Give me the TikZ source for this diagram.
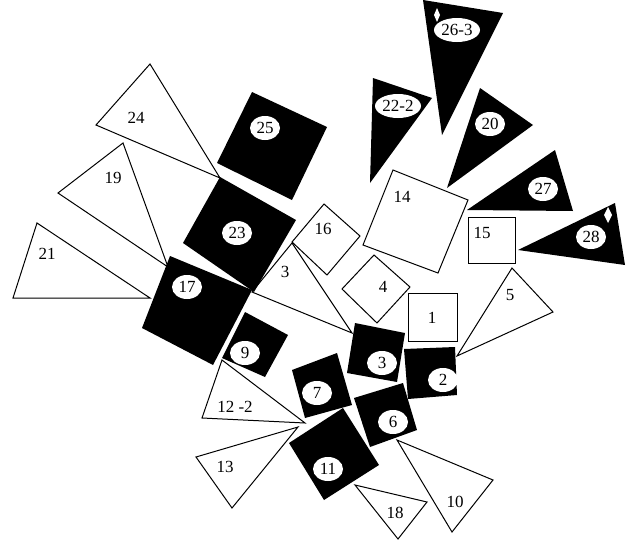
\documentclass[tikz,border=0pt]{standalone}
\usepackage{fontspec}
\setmainfont{Liberation Serif}
\usetikzlibrary{shapes.geometric}
\begin{document}
\begin{tikzpicture}[x=1pt,y=-1pt,
 wpoly/.style={draw=black,line width=1pt,fill=white,line join=miter},
 bpoly/.style={fill=black},
 wlab/.style={font=\fontsize{17}{17}\selectfont,inner sep=0pt},
 blab/.style={ellipse,fill=white,font=\fontsize{17}{17}\selectfont,inner sep=0pt,minimum width=30pt,minimum height=24pt},
 wmark/.style={fill=white}
]
\useasboundingbox (0,0) rectangle (632,541);
% white triangles
\draw[wpoly] (150,64) -- (96,125) -- (220,178) -- cycle;
\draw[wpoly] (123,143) -- (58,193) -- (168,267) -- cycle;
\draw[wpoly] (37,223) -- (13,298) -- (150,298) -- cycle;
\draw[wpoly] (292,243) -- (252,292) -- (352,333) -- cycle;
\draw[wpoly] (222,360) -- (202,418) -- (305,423) -- cycle;
\draw[wpoly] (298,427) -- (196,457) -- (232,508) -- cycle;
\draw[wpoly] (355,485) -- (427,502) -- (398,539) -- cycle;
\draw[wpoly] (397,440) -- (493,480) -- (452,532) -- cycle;
\draw[wpoly] (512,268) -- (553,312) -- (457,356) -- cycle;
% white squares
\draw[wpoly] (324,204) -- (360,236) -- (327,275) -- (292,242) -- cycle;
\draw[wpoly] (374,255) -- (410,287) -- (377,323) -- (342,289) -- cycle;
\draw[wpoly] (408,293) rectangle (457,341);
\draw[wpoly] (468,217) rectangle (515,263);
\draw[wpoly] (393,170) -- (468,200) -- (438,273) -- (363,245) -- cycle;
% black squares
\fill[bpoly] (252,92) -- (327,127) -- (292,200) -- (217,163) -- cycle;
\fill[bpoly] (220,177) -- (296,220) -- (254,292) -- (183,243) -- cycle;
\fill[bpoly] (170,256) -- (252,290) -- (213,365) -- (142,328) -- cycle;
\fill[bpoly] (245,312) -- (288,335) -- (265,377) -- (222,358) -- cycle;
\fill[bpoly] (292,370) -- (337,353) -- (352,405) -- (305,418) -- cycle;
\fill[bpoly] (355,323) -- (405,333) -- (397,382) -- (347,373) -- cycle;
\fill[bpoly] (404,349) -- (455,347) -- (457,395) -- (408,399) -- cycle;
\fill[bpoly] (354,398) -- (403,383) -- (417,430) -- (370,447) -- cycle;
\fill[bpoly] (343,408) -- (379,465) -- (324,500) -- (289,443) -- cycle;
% black triangles
\fill[bpoly] (423,0) -- (503,13) -- (442,135) -- cycle;
\fill[bpoly] (373,78) -- (432,98) -- (370,183) -- cycle;
\fill[bpoly] (480,88) -- (533,125) -- (447,188) -- cycle;
\fill[bpoly] (555,150) -- (573,211) -- (467,210) -- cycle;
\fill[bpoly] (615,203) -- (625,265) -- (518,250) -- cycle;
% small white marks
\fill[wmark] (437,8) -- (440,15) -- (437,22) -- (434,15) -- cycle;
\fill[wmark] (608,207) -- (612,215) -- (608,223) -- (604,215) -- cycle;
% labels in white shapes
\node[wlab] (l24) at (136,118) {24};
\node[wlab] (l19) at (113,178) {19};
\node[wlab] (l21) at (47,254) {21};
\node[wlab] (l3) at (285,272) {3};
\node[wlab] (l16) at (323,229) {16};
\node[wlab] (l4) at (383,287) {4};
\node[wlab] (l1) at (432,318) {1};
\node[wlab] (l15) at (482,233) {15};
\node[wlab] (l14) at (402,197) {14};
\node[wlab] (l5) at (510,295) {5};
\node[wlab] (l122) at (235,407) {12 -2};
\node[wlab] (l13) at (225,467) {13};
\node[wlab] (l18) at (395,513) {18};
\node[wlab] (l10) at (455,502) {10};
% labels in black shapes
\node[blab] (b25) at (265,128) {25};
\node[blab] (b23) at (237,233) {23};
\node[blab] (b17) at (187,287) {17};
\node[blab] (b9) at (245,353) {9};
\node[blab] (b7) at (317,393) {7};
\node[blab] (b3) at (382,363) {3};
\node[blab] (b2) at (443,380) {2};
\node[blab] (b6) at (393,422) {6};
\node[blab] (b11) at (328,469) {11};
\node[blab] (b28) at (591,237) {28};
\node[blab] (b27) at (543,189) {27};
\node[blab] (b20) at (490,124) {20};
\node[blab,minimum width=46pt] (b222) at (398,106) {22-2};
\node[blab,minimum width=46pt] (b263) at (457,30) {26-3};
\end{tikzpicture}
\end{document}
